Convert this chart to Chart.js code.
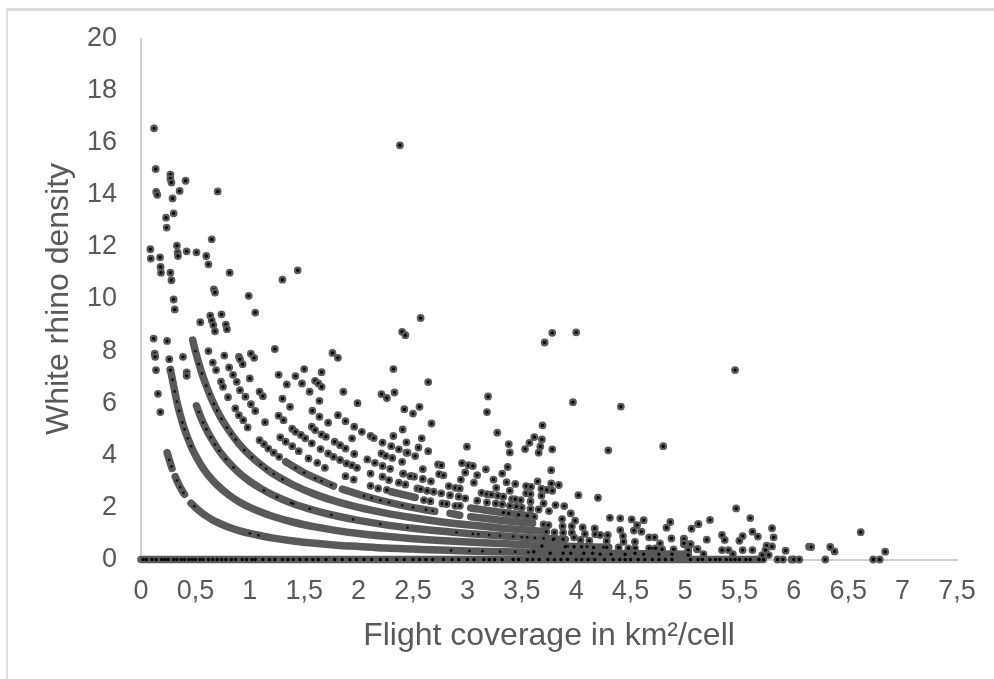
<!DOCTYPE html>
<html>
<head>
<meta charset="utf-8">
<style>
  html, body { margin: 0; padding: 0; background: #fff; overflow: hidden; }
  #frame { position: absolute; left: 6px; top: 8px; right: 0; bottom: 0; border-top: 3px solid #dcdcdc; border-left: 2px solid #dcdcdc; }
  #chart { position: absolute; left: 0; top: 0; }
</style>
</head>
<body>
<div id="frame"></div>
<canvas id="chart" width="994" height="679"></canvas>
<script src="https://cdn.jsdelivr.net/npm/chart.js@4"></script>
<script>
var xTicks = ['0', '0,5', '1', '1,5', '2', '2,5', '3', '3,5', '4', '4,5', '5', '5,5', '6', '6,5', '7', '7,5'];
var xTitle = 'Flight coverage in km²/cell';
var yTitle = 'White rhino density';

var band1X = [.24, .26, .285, .3, .315, .34, .37, .4, .43, .46, .5, .55, .6, .65, .7, .8, .9, 1, 1.1, 1.2, 1.4, 1.6, 1.8, 2, 2.25, 2.5, 2.75, 3, 3.3, 3.6, 3.9, 4.2, 4.6, 5];
var band1Y = [4.1, 3.82, 3.5, null, 3.18, 2.94, 2.7, 2.5, null, 2.16, 2, 1.82, 1.67, 1.54, 1.43, 1.25, 1.11, 1, .91, .83, .71, .62, .55, .5, .44, .4, .36, .33, .3, .28, .26, .24, .22, .2];
var band2X = [.27, .3, .33, .36, .4, .44, .47, .5, .55, .6, .65, .7, .8, .9, 1, 1.1, 1.2, 1.4, 1.6, 1.8, 2, 2.25, 2.5, 2.75, 3, 3.3, 3.6, 3.9, 4.3];
var band2Y = [7.3, 6.67, 6.06, 5.56, 5, 4.55, 4.25, 4, 3.64, 3.33, 3.08, 2.86, 2.5, 2.22, 2, 1.82, 1.67, 1.43, 1.25, 1.11, 1, .89, .8, .73, .67, .61, .56, .51, .47];
var band3X = [.51, .55, .6, .65, .7, .75, .8, .9, 1, 1.1, 1.2, 1.4, 1.6, 1.8, 2, 2.25, 2.5, 2.75, 3, 3.3, 3.6, 3.9];
var band3Y = [5.9, 5.45, 5, 4.62, 4.29, 4, 3.75, 3.33, 3, 2.73, 2.5, 2.14, 1.88, 1.67, 1.5, 1.33, 1.2, 1.09, 1, .91, .83, .77];
var band4X = [.475, .5, .55, .6, .65, .7, .75, .8, .9, 1, 1.1, 1.2, 1.4, 1.6, 1.8, 2, 2.25, 2.5, 2.75, 3, 3.3, 3.7];
var band4Y = [8.42, 8, 7.27, 6.67, 6.15, 5.71, 5.33, 5, 4.44, 4, 3.64, 3.33, 2.86, 2.5, 2.22, 2, 1.78, 1.6, 1.45, 1.33, 1.21, 1.08];
var band5X = [1.33, 1.4, 1.5, 1.6, 1.77, 1.81, 1.85, 2, 2.2, 2.4, 2.6, 2.7, 2.78, 2.84, 2.93, 2.98, 3.03, 3.15, 3.3, 3.6];
var band5Y = [3.75, 3.57, 3.33, 3.13, 2.82, null, 2.7, 2.5, 2.27, 2.08, 1.92, 1.85, null, 1.77, 1.7, null, 1.64, 1.58, 1.51, 1.39];
var band6X = [2.3, 2.4, 2.52, 2.56, 3.03, 3.2, 3.4, 3.6];
var band6Y = [2.6, 2.5, 2.38, null, 1.98, 1.87, 1.76, 1.67];
var zeroRowEnd = [0, 5.72];

// single dots
var dotX = [
  .12, 2.38, .135, .27, .27, .28, .41, .14, .15, .355, .705, .29, .3, .23, .236, .65, .086, .09, .33, .337, .34, .175, .42, .51, .6, .62, .18, .184, .27, .28, .815, 1.3, 1.44,
  .67, .68, .99, .3, .31, 1.05, .74, .637, .65, .665, .68, .545, .78, .79, 2.4, 2.43, 2.57, .116, .24, .126, .13, .62, 1.23, .766, 1.01, 1.04, .9, .91, 1.76, 1.81,
  .138, .27, .386, .26, .42, .42, .66, .69, .156, .178, .735, .754, .8, .81, .846, .88, .91, .96, .934, 1, 1.01, 1.05, 1.09, 1.12, .867, .9, .94, .98, 1.14,
  1.265, 1.34, 1.42, 1.5, 1.48, 1.66, 1.6, 1.63, 1.66, 1.55, 1.64, 1.3, 1.37, 1.265, 1.31, 1.575, 1.64, 1.72, 1.81, 1.88, 1.96, 2.03, 2.11, 2.14, 1.86, 1.99, 2.21, 2.26, 2.32, 2.33,
  2.42, 2.5, 2.56, 2.405, 2.32, 2.22, 2.44, 2.55, 1.39, 1.42, 1.47, 1.51, 1.57, 1.6, 1.66, 1.7, 1.09, 1.13, 1.17, 1.22, 1.27, 1.28, 1.33, 1.39, 1.45, 1.57, 1.65, 1.78, 1.83, 1.88, 1.94, 1.96,
  1.72, 1.77, 1.83, 1.89, 1.94, 1.985, 1.54, 1.62, 1.69, 2.08, 2.15, 2.22, 2.21, 2.25, 2.31, 2.3, 2.37, 2.44, 2.52, 2.4, 2.29, 2.41, 2.49, 1.88, 1.955, 2.11, 2.22, 2.28, 2.37, 2.43, 2.11, 2.18, 2.26,
  2.64, 3.19, 3.18, 2.67, 2.58, 2.64, 2.45, 2.996, 3.275, 3.38, 3.39, 3.71, 3.97, 4.41, 4.8, 4.295, 3.69, 3.615, 3.57, 3.53, 3.685, 3.67, 3.655, 3.78, 3.77, 3.37, 3.32, 3.17, 2.95, 3.01, 3.05, 2.98, 3.09, 2.94, 3.06, 3.24,
  3.36, 3.44, 3.265, 3.54, 3.585, 3.645, 3.77, 3.84, 3.68, 3.73, 3.78, 3.54, 3.58, 3.68, 3.39, 3.13, 3.18, 3.22, 3.28, 3.33, 3.41, 3.44, 3.49, 3.09, 3.18, 3.26, 3.32, 3.39, 3.45, 3.5, 3.58, 3.7, 3.81, 3.89, 4.02, 4.2, 3.95, 3.75, 3.58, 3.655,
  3.33, 3.38, 3.47, 3.55, 3.615, 4.31, 4.405, 4.51, 4.62, 4.56, 4.53, 4.6, 4.405, 4.43, 4.865, 4.83, 5.06, 5.12, 4.875, 4.72, 4.67, 4.77, 4.99, 4.99, 5.05, 4.54, 4.435,
  3.87, 3.875, 3.96, 3.99, 3.88, 3.96, 4.06, 4.08, 4.17, 4.175, 4.22, 4.29, 3.8, 3.725, 3.7, 3.745, 4.04, 4.12, 4.28, 3.79, 3.88, 3.98, 5.11, 5.03, 4.895, 4.79, 4.73, 4.67, 4.54, 4.48, 4.39, 4.28, 4.16, 4.05, 3.98, 3.9,
  5.03, 4.88, 4.76, 4.62, 4.54, 4.45, 4.32, 4.22, 4.15, 4.07, 3.95, 3.88, 3.76, 3.685, 3.61,
  5.46, 5.47, 5.6, 5.23, 5.125, 4.99, 5.2, 5.34, 5.365, 5.53, 5.5, 5.62, 5.67, 5.8, 5.815, 5.75, 5.8, 5.74, 5.77, 5.34, 5.4, 5.44, 5.53, 5.62, 5.116, 5.05, 4.99, 5.03, 5.03, 5.17, 5.71, 5.925, 6.14, 6.16, 6.335, 6.375, 6.615, 6.84,
  5.85, 5.9, 5.98, 6, 6.05, 6.29, 6.73, 6.79, 3.78, 4, 2.54, 2.57, 2.63, 2.69, 2.76, 2.84, 2.92, 2.98, 2.6, 2.66, 2.77, 2.81, 2.89, 2.93, 2.74, 2.78, 2.73, 2.76, 2.59, 2.51, 2.475, 2.59, 2.665, 2.41, 2.83, 2.89, 2.93
];
var dotY = [
  16.55, 15.9, 14.99, 14.77, 14.62, 14.47, 14.54, 14.11, 14, 14.15, 14.13, 13.86, 13.29, 13.12, 12.74, 12.29, 11.91, 11.55, 12.05, 11.78, 11.65, 11.6, 11.83, 11.79, 11.65, 11.33, 11.23, 11.01, 11.01, 10.72, 11.01, 10.74, 11.1,
  10.37, 10.25, 10.12, 9.98, 9.6, 9.48, 9.41, 9.36, 9.18, 9, 8.76, 9.11, 9.02, 8.84, 8.74, 8.61, 9.27, 8.48, 8.39, 7.9, 7.78, 8, 8.08, 7.83, 7.9, 7.74, 7.78, 7.69, 7.93, 7.74,
  7.27, 7.27, 7.78, 7.69, 7.18, 7.05, 7.56, 7.27, 6.36, 5.66, 6.83, 6.63, 6.23, 7.37, 7.09, 6.82, 6.5, 6.25, 7.5, 6.95, 5.96, 5.7, 6.44, 6.27, 5.8, 5.54, 5.35, 5.07, 5.27,
  7.09, 6.72, 7.04, 7.31, 6.76, 7.19, 6.86, 6.76, 6.63, 6.44, 6.09, 6.17, 5.86, 5.52, 5.35, 5.71, 5.48, 5.25, 5.54, 5.31, 5.1, 4.9, 4.74, 4.66, 6.44, 6, 6.35, 6.2, 7.31, 6.41,
  5.77, 5.6, 5.86, 4.99, 4.74, 4.49, 4.5, 4.3, 5.02, 4.9, 4.78, 4.65, 5.1, 4.97, 4.8, 4.71, 4.58, 4.43, 4.26, 4.1, 3.94, 4.69, 4.52, 4.35, 4.16, 4.46, 4.24, 4.52, 4.39, 4.26, 4.65, 4.05,
  4.07, 3.94, 3.82, 3.69, 3.62, 3.52, 3.88, 3.71, 3.52, 3.84, 3.71, 3.59, 4.07, 3.98, 3.9, 4.35, 4.23, 4.1, 3.97, 3.75, 3.48, 3.3, 3.2, 3.2, 3.07, 3.3, 3.18, 3.05, 2.95, 2.88, 2.83, 2.73, 2.67,
  6.81, 6.26, 5.66, 5.22, 4.65, 4.16, 4.1, 4.33, 4.87, 4.43, 4.11, 8.33, 6.04, 5.87, 4.35, 4.19, 5.15, 4.7, 4.48, 4.24, 4.61, 4.34, 4.1, 4.23, 3.43, 3.55, 3.3, 3.46, 3.7, 3.62, 3.59, 3.34, 3.24, 3.07, 2.95, 3.07,
  2.97, 2.9, 2.75, 2.82, 2.79, 3, 2.92, 2.86, 2.72, 2.67, 2.64, 2.54, 2.51, 2.45, 2.64, 2.56, 2.51, 2.49, 2.45, 2.41, 2.32, 2.31, 2.28, 2.26, 2.19, 2.15, 2.12, 2.06, 2.03, 1.99, 2.23, 2.15, 2.09, 2.05, 2.47, 2.37, 1.77, 1.86, 1.94, 1.92,
  1.8, 1.77, 1.72, 1.68, 1.64, 1.6, 1.58, 1.54, 1.51, 1.32, 1.11, 1.07, 1.13, .9, 1.44, 1.22, 1.18, 1.36, .81, .85, .85, .62, .8, .59, .59, .68, .68,
  1.55, 1.28, 1.28, 1.49, 1.03, 1.03, 1.23, .98, 1.19, .97, .94, .94, 1.04, 1.07, 1.35, 1.32, .75, .72, .71, .78, .78, .85, .39, .36, .39, .39, .43, .43, .43, .43, .46, .46, .46, .49, .49, .49,
  .24, .2, .2, .2, .24, .2, .2, .2, .24, .24, .24, .24, .24, .52, .3,
  7.27, 1.96, 1.59, 1.52, 1.36, .79, .76, .94, .75, .9, .72, 1.07, .88, 1.2, .85, .53, .5, .36, .17, .36, .36, .21, .36, .36, .4, .59, .62, .36, .17, .21, .17, .34, .49, .48, .48, .31, 1.05, .3,
  0, 0, 0, 0, 0, 0, 0, 0, 8.7, 8.72, 2.73, 2.7, 2.64, 2.6, 2.54, 2.47, 2.41, 2.35, 2.28, 2.24, 2.15, 2.13, 2.06, 2.06, 3.28, 3.23, 3.65, 3.62, 3.47, 3.18, 3.2, 3.09, 3, 3.3, 2.82, 2.75, 2.73
];

// black centres still showing inside the grey rows
var coreX = [.5, .53, .56, .6, .63, .67, .7, .74, .79, .83, .87, .95, 1.02, 1.1, 1.15, 1.22, 1.3, .29, .31, .33, .35, .38, .4, .43, .46, .53, .57, .6, .64, .68, .72, .78, .85, .26, .28, .33, .36, .39, .49, 1, 1.08, 1.13, 1.25, 1.38, 1.55, 1.42, 1.5, 1.6, 1.66, 1.75, 2.05, 2.12, 2.2, 2.28, 2.4, 2.5, 2.62, 2.68, 2.9, 3.05, 3.1, 3.2, 3.3, 3.42, 3.5, 3.55, 3.62, 3.7, 3.8, 3.92, 4.1, 4.25, 4.4, 4.55, 4.7, 2.85, 3.02, 3.14, 3.3, 3.44, 3.56, 1.4, 1.75, 1.95, 2.2, 2.45];
var coreY = [8, 7.5, 7.14, 6.67, 6.35, 5.97, 5.71, 5.4, 5.06, 4.82, 4.6, 4.2, 3.92, 3.64, 3.48, 3.28, 3.08, 6.9, 6.45, 6.06, 5.7, 5.26, 5, 4.65, 4.35, 5.66, 5.26, 5, 4.69, 4.41, 4.17, 3.85, 3.53, 3.82, 3.57, 3.03, 2.78, 2.56, 2.04, 1, .93, 2.65, 2.4, 2.17, 1.94, 3.52, 3.33, 3.12, 3.01, 2.86, 2.44, 2.36, 2.27, 2.19, 2.08, 2, 1.91, 1.87, 1.04, .98, .97, .94, .91, .88, .86, .85, .83, .81, .79, .51, .49, .47, .45, .44, .43, .35, .33, .32, .3, .29, .28, 2.14, 1.71, 1.54, 1.36, 1.22];
var zeroCoreX = [.02, .05, .1, .14, .19, .22, .25, .3, .33, .37, .4, .44, .47, .5, .54, .57, .62, .66, .7, .74, .78, .83, .87, .93, .97, 1.02, 1.05, 1.12, 1.18, 1.23, 1.3, 1.35, 1.4, 1.46, 1.52, 1.58, 1.63, 1.7, 1.78, 1.85, 1.92, 1.98, 2.05, 2.12, 2.2, 2.26, 2.35, 2.42, 2.5, 2.56, 2.62, 2.68, 2.78, 2.86, 2.92, 3, 3.06, 3.15, 3.2, 3.25, 3.32, 3.42, 3.47, 3.55, 3.6, 3.66, 3.74, 3.8, 3.86, 3.92, 4, 4.05, 4.11, 4.17, 4.26, 4.34, 4.4, 4.45, 4.5, 4.57, 4.63, 4.7, 4.76, 4.82, 4.88, 5.05, 5.12, 5.16, 5.23, 5.28, 5.32, 5.38, 5.42, 5.46, 5.5, 5.56, 5.6, 5.68, 5.72];

function zip(xs, ys) {
    return xs.map(function (x, i) { return { x: x, y: ys[i] }; });
}

function bandSet(xs, ys) {
    return {
        data: zip(xs, ys),
        showLine: true,
        spanGaps: false,
        borderColor: '#595959',
        borderWidth: 7.5,
        borderCapStyle: 'round',
        borderJoinStyle: 'round',
        cubicInterpolationMode: 'monotone',
        pointRadius: 0,
        clip: false
    };
}

new Chart(document.getElementById('chart').getContext('2d'), {
    type: 'scatter',
    data: {
        // first dataset is painted last
        datasets: [
            {
                data: zip(zeroCoreX, zeroCoreX.map(function () { return 0; })),
                pointRadius: 1.7,
                pointBorderWidth: 0,
                pointBackgroundColor: '#000',
                clip: false
            },
            {
                data: zip(coreX, coreY),
                pointRadius: 1.4,
                pointBorderWidth: 0,
                pointBackgroundColor: '#111',
                clip: false
            },
            {
                data: zip(dotX, dotY),
                pointRadius: 2.8,
                pointBorderWidth: 2.2,
                pointBackgroundColor: '#000',
                pointBorderColor: '#595959',
                clip: false
            },
            bandSet(zeroRowEnd, zeroRowEnd.map(function () { return 0; })),
            bandSet(band6X, band6Y),
            bandSet(band5X, band5Y),
            bandSet(band4X, band4Y),
            bandSet(band3X, band3Y),
            bandSet(band2X, band2Y),
            bandSet(band1X, band1Y)
        ]
    },
    options: {
        responsive: false,
        animation: false,
        layout: { padding: { left: 40, right: 37, top: 38.5, bottom: 24 } },
        plugins: { legend: { display: false }, tooltip: { enabled: false } },
        scales: {
            x: {
                type: 'linear',
                min: 0,
                max: 7.5,
                grid: { display: false },
                border: { color: '#d0d0d0', width: 2 },
                afterFit: function (scale) { scale.height = 95.5; },
                ticks: {
                    stepSize: 0.5,
                    autoSkip: false,
                    maxRotation: 0,
                    color: '#595959',
                    font: { family: 'Liberation Sans', size: 27 },
                    padding: 8,
                    callback: function (v, i) { return xTicks[i]; }
                },
                title: {
                    display: true,
                    text: xTitle,
                    color: '#595959',
                    font: { family: 'Liberation Sans', size: 32 },
                    padding: { top: 3, bottom: 0 }
                }
            },
            y: {
                min: 0,
                max: 20,
                grid: { display: false },
                border: { color: '#d0d0d0', width: 2 },
                afterFit: function (scale) { scale.width = 101; },
                ticks: {
                    stepSize: 2,
                    color: '#595959',
                    font: { family: 'Liberation Sans', size: 27 },
                    padding: 16
                },
                title: {
                    display: true,
                    text: yTitle,
                    color: '#595959',
                    font: { family: 'Liberation Sans', size: 32 },
                    padding: { top: 0, bottom: 0 }
                }
            }
        }
    }
});
</script>
</body>
</html>
